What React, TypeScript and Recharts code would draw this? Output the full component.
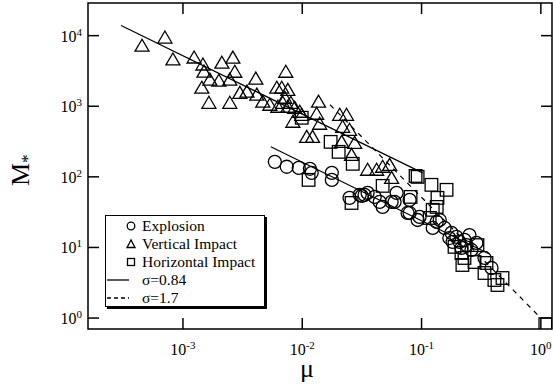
import React from 'react';
import { ScatterChart, Scatter, XAxis, YAxis, ReferenceArea } from 'recharts';

const SERIF = "'Liberation Serif', 'Times New Roman', serif";
const W = 553;
const H = 386;
const Y_AXIS_W = 88;
const X_AXIS_H = 57;
const MARGIN = { top: 3, right: 1, left: 0, bottom: 0 };
const PLOT_W = W - Y_AXIS_W - MARGIN.right;
const PLOT_H = H - X_AXIS_H - MARGIN.top;
const TICK_LEN = 11;

const X_DOMAIN = [1.6e-4, 1.24];
const Y_DOMAIN = [0.7, 2.9e4];
const X_TICKS = [1e-3, 1e-2, 1e-1, 1];
const Y_TICKS = [1, 10, 100, 1000, 10000];

// Explosion (circles)
const explosionMu = [
  5.89e-3, 7.41e-3, 9.35e-3, 1.16e-2, 1.2e-2, 1.77e-2, 1.77e-2, 2.49e-2, 3.03e-2, 3.33e-2,
  4.05e-2, 4.46e-2, 4.72e-2, 5.61e-2, 3.15e-2, 3.53e-2, 6.18e-2, 5.94e-2, 7.94e-2, 7.64e-2,
  9.62e-2, 7.94e-2, 9.27e-2, 0.134, 0.142, 0.124, 0.178, 0.171, 0.196, 0.182,
  0.208, 0.229, 0.238, 0.288, 0.216, 0.262, 0.337, 0.386, 0.156, 0.252,
];
const explosionM = [
  163, 139, 134, 130, 114, 114, 90.6, 50.4, 55.6, 55.6,
  52, 44.2, 37.5, 44.2, 53.7, 59.3, 59.3, 44.2, 47.2, 30.8,
  27.1, 30.8, 24.5, 23, 24.5, 18.9, 16.1, 13.6, 14.1, 12,
  12, 12.8, 10.8, 11.6, 9.84, 9.22, 7.1, 5.12, 18.9, 15,
];

// Vertical impact (triangles)
const verticalMu = [
  4.54e-4, 7.06e-4, 8.24e-4, 1.24e-3, 1.47e-3, 1.5e-3, 1.44e-3, 1.68e-3, 1.65e-3, 2.12e-3,
  2.62e-3, 2.0e-3, 2.47e-3, 2.47e-3, 2.72e-3, 3.0e-3, 3.44e-3, 4.08e-3, 4.16e-3, 4.67e-3,
  5.35e-3, 6.12e-3, 6.73e-3, 7.57e-3, 7.28e-3, 6.24e-3, 6.87e-3, 7.57e-3, 8.34e-3, 9.53e-3,
  9.9e-3, 1.37e-2, 1.32e-2, 1.4e-2, 1.09e-2, 1.22e-2, 2.06e-2, 2.35e-2, 2.18e-2, 2.49e-2,
  2.14e-2, 2.75e-2, 2.59e-2, 3.53e-2, 4.2e-2, 4.72e-2, 5.4e-2, 5.61e-2, 7.14e-3, 8.02e-3,
  8.65e-3,
];
const verticalM = [
  7200, 9400, 4600, 4900, 3900, 3100, 1830, 2380, 1120, 4140,
  4880, 2300, 2380, 1120, 3080, 1550, 1610, 2460, 1460, 1160,
  1050, 1830, 1830, 1710, 3080, 984, 1120, 984, 603, 836,
  757, 1160, 783, 565, 369, 369, 757, 757, 512, 464,
  313, 303, 205, 126, 126, 139, 148, 96.8, 1320, 1120,
  953,
];

// Horizontal impact (squares)
const horizontalMu = [
  1.13e-2, 1.73e-2, 2.02e-2, 2.65e-2, 4.72e-2, 8.91e-2, 9.27e-2, 0.121, 0.162, 0.136,
  8.09e-2, 2.59e-2, 0.124, 0.134, 0.117, 0.189, 0.229, 0.278, 0.294, 0.22,
  0.337, 0.408, 0.477, 0.433, 1.09, 0.35, 9.9e-3, 0.216,
];
const horizontalM = [
  90.6, 313, 226, 153, 74.5, 103, 100, 77.1, 65.5, 50.4,
  52, 42.7, 34.1, 37.5, 26.2, 10.2, 7.1, 6.22, 10.8, 5.65,
  4.35, 3.46, 3.69, 2.94, 0.82, 6.03, 687, 8.36,
];

// fitted lines
const fitVerticalMu = [3.03e-4, 0.102];
const fitVerticalM = [1.39e4, 114];
const fitExplosionMu = [5.45e-3, 0.37];
const fitExplosionM = [267, 8.1];
const fitSteepMu = [1.71e-2, 1.0];
const fitSteepM = [1050, 1.0];

const toPts = (mu: number[], m: number[]) => mu.map((x, i) => ({ x, y: m[i] }));

const CircleMark = (p: any) => (
  <circle cx={p.cx} cy={p.cy} r={6.5} fill="none" stroke="#000" strokeWidth={1.3} />
);
const TriMark = (p: any) => (
  <polygon
    points={`${p.cx},${p.cy - 6.5} ${p.cx - 7},${p.cy + 5.5} ${p.cx + 7},${p.cy + 5.5}`}
    fill="none"
    stroke="#000"
    strokeWidth={1.3}
  />
);
const SquareMark = (p: any) => (
  <rect x={p.cx - 6.3} y={p.cy - 6.3} width={12.6} height={12.6} fill="none" stroke="#000" strokeWidth={1.3} />
);
const NoMark = () => <g />;

const expOf = (v: number) => Math.round(Math.log10(v));

const XTick = (props: any) => {
  const { x, y, payload } = props;
  return (
    <g>
      <line x1={x} y1={y} x2={x} y2={y - TICK_LEN} stroke="#000" strokeWidth={1.5} />
      <line x1={x} y1={y - PLOT_H} x2={x} y2={y - PLOT_H + TICK_LEN} stroke="#000" strokeWidth={1.5} />
      <text x={x} y={y + 26} textAnchor="middle" fontSize={16} fontFamily={SERIF} fill="#000">
        10<tspan dy={-6} fontSize={11}>{expOf(payload.value)}</tspan>
      </text>
    </g>
  );
};

const YTick = (props: any) => {
  const { x, y, payload } = props;
  return (
    <g>
      <line x1={x} y1={y} x2={x + TICK_LEN} y2={y} stroke="#000" strokeWidth={1.5} />
      <line x1={x + PLOT_W} y1={y} x2={x + PLOT_W - TICK_LEN} y2={y} stroke="#000" strokeWidth={1.5} />
      <text x={x - 6} y={y + 6} textAnchor="end" fontSize={16} fontFamily={SERIF} fill="#000">
        10<tspan dy={-6} fontSize={11}>{expOf(payload.value)}</tspan>
      </text>
    </g>
  );
};

const legendRows = [
  { label: 'Explosion', kind: 'circle' },
  { label: 'Vertical Impact', kind: 'tri' },
  { label: 'Horizontal Impact', kind: 'square' },
  { label: 'σ=0.84', kind: 'solid' },
  { label: 'σ=1.7', kind: 'dashed' },
];

const LegendIcon = ({ kind }: { kind: string }) => {
  const s = { fill: 'none', stroke: '#000', strokeWidth: 1.3 };
  if (kind === 'circle') return <circle cx={25} cy={9} r={3.8} {...s} />;
  if (kind === 'tri') return <polygon points="25,5 21,12.5 29,12.5" {...s} />;
  if (kind === 'square') return <rect x={21.5} y={5.5} width={7} height={7} {...s} />;
  if (kind === 'solid') return <line x1={1} y1={9} x2={23} y2={9} stroke="#000" strokeWidth={1.3} />;
  return <line x1={1} y1={9} x2={23} y2={9} stroke="#000" strokeWidth={1.3} strokeDasharray="4 3" />;
};

const App: React.FC = () => {
  return (
    <div style={{ position: 'absolute', left: 0, top: 0, width: W, height: H, background: '#fff' }}>
      <ScatterChart width={W} height={H} margin={MARGIN}>
        <XAxis
          type="number"
          dataKey="x"
          scale="log"
          domain={X_DOMAIN}
          allowDataOverflow
          ticks={X_TICKS}
          axisLine={false}
          tickLine={false}
          tickSize={0}
          tickMargin={0}
          height={X_AXIS_H}
          tick={<XTick />}
          interval={0}
        />
        <YAxis
          type="number"
          dataKey="y"
          scale="log"
          domain={Y_DOMAIN}
          allowDataOverflow
          ticks={Y_TICKS}
          axisLine={false}
          tickLine={false}
          tickSize={0}
          tickMargin={0}
          width={Y_AXIS_W}
          tick={<YTick />}
          interval={0}
        />
        <ReferenceArea
          x1={X_DOMAIN[0]}
          x2={X_DOMAIN[1]}
          y1={Y_DOMAIN[0]}
          y2={Y_DOMAIN[1]}
          fill="none"
          stroke="#000"
          strokeWidth={1.5}
          ifOverflow="visible"
        />
        <Scatter data={toPts(fitVerticalMu, fitVerticalM)} line={{ stroke: '#000', strokeWidth: 1.2 }} shape={NoMark} isAnimationActive={false} />
        <Scatter data={toPts(fitExplosionMu, fitExplosionM)} line={{ stroke: '#000', strokeWidth: 1.2 }} shape={NoMark} isAnimationActive={false} />
        <Scatter data={toPts(fitSteepMu, fitSteepM)} line={{ stroke: '#000', strokeWidth: 1.2, strokeDasharray: '5 5' }} shape={NoMark} isAnimationActive={false} />
        <Scatter name="Explosion" data={toPts(explosionMu, explosionM)} shape={CircleMark} isAnimationActive={false} />
        <Scatter name="Vertical Impact" data={toPts(verticalMu, verticalM)} shape={TriMark} isAnimationActive={false} />
        <Scatter name="Horizontal Impact" data={toPts(horizontalMu, horizontalM)} shape={SquareMark} isAnimationActive={false} />
      </ScatterChart>

      {/* axis titles */}
      <div style={{ position: 'absolute', left: 8, top: 146, width: 26, height: 40, fontFamily: SERIF, fontSize: 26 }}>
        <div style={{ position: 'absolute', left: 0, top: 40, transform: 'rotate(-90deg)', transformOrigin: '0 0', whiteSpace: 'nowrap', lineHeight: '26px' }}>
          M<sub style={{ fontSize: 17, verticalAlign: -4 }}>*</sub>
        </div>
      </div>
      <div style={{ position: 'absolute', left: 300, top: 356, fontFamily: SERIF, fontSize: 26, lineHeight: '26px' }}>μ</div>

      {/* legend */}
      <div
        style={{
          position: 'absolute',
          left: 105,
          top: 215,
          width: 158,
          height: 89,
          border: '1.5px solid #000',
          boxShadow: '2px 2px 0 #000',
          background: '#fff',
          fontFamily: SERIF,
          fontSize: 15.5,
          paddingTop: 1,
        }}
      >
        {legendRows.map((r) => (
          <div key={r.label} style={{ position: 'relative', height: 18 }}>
            <svg width={34} height={18} style={{ position: 'absolute', left: 0, top: 0 }}>
              <LegendIcon kind={r.kind} />
            </svg>
            <span style={{ position: 'absolute', left: 36, top: 0, lineHeight: '18px', whiteSpace: 'nowrap' }}>{r.label}</span>
          </div>
        ))}
      </div>
    </div>
  );
};

export default App;
